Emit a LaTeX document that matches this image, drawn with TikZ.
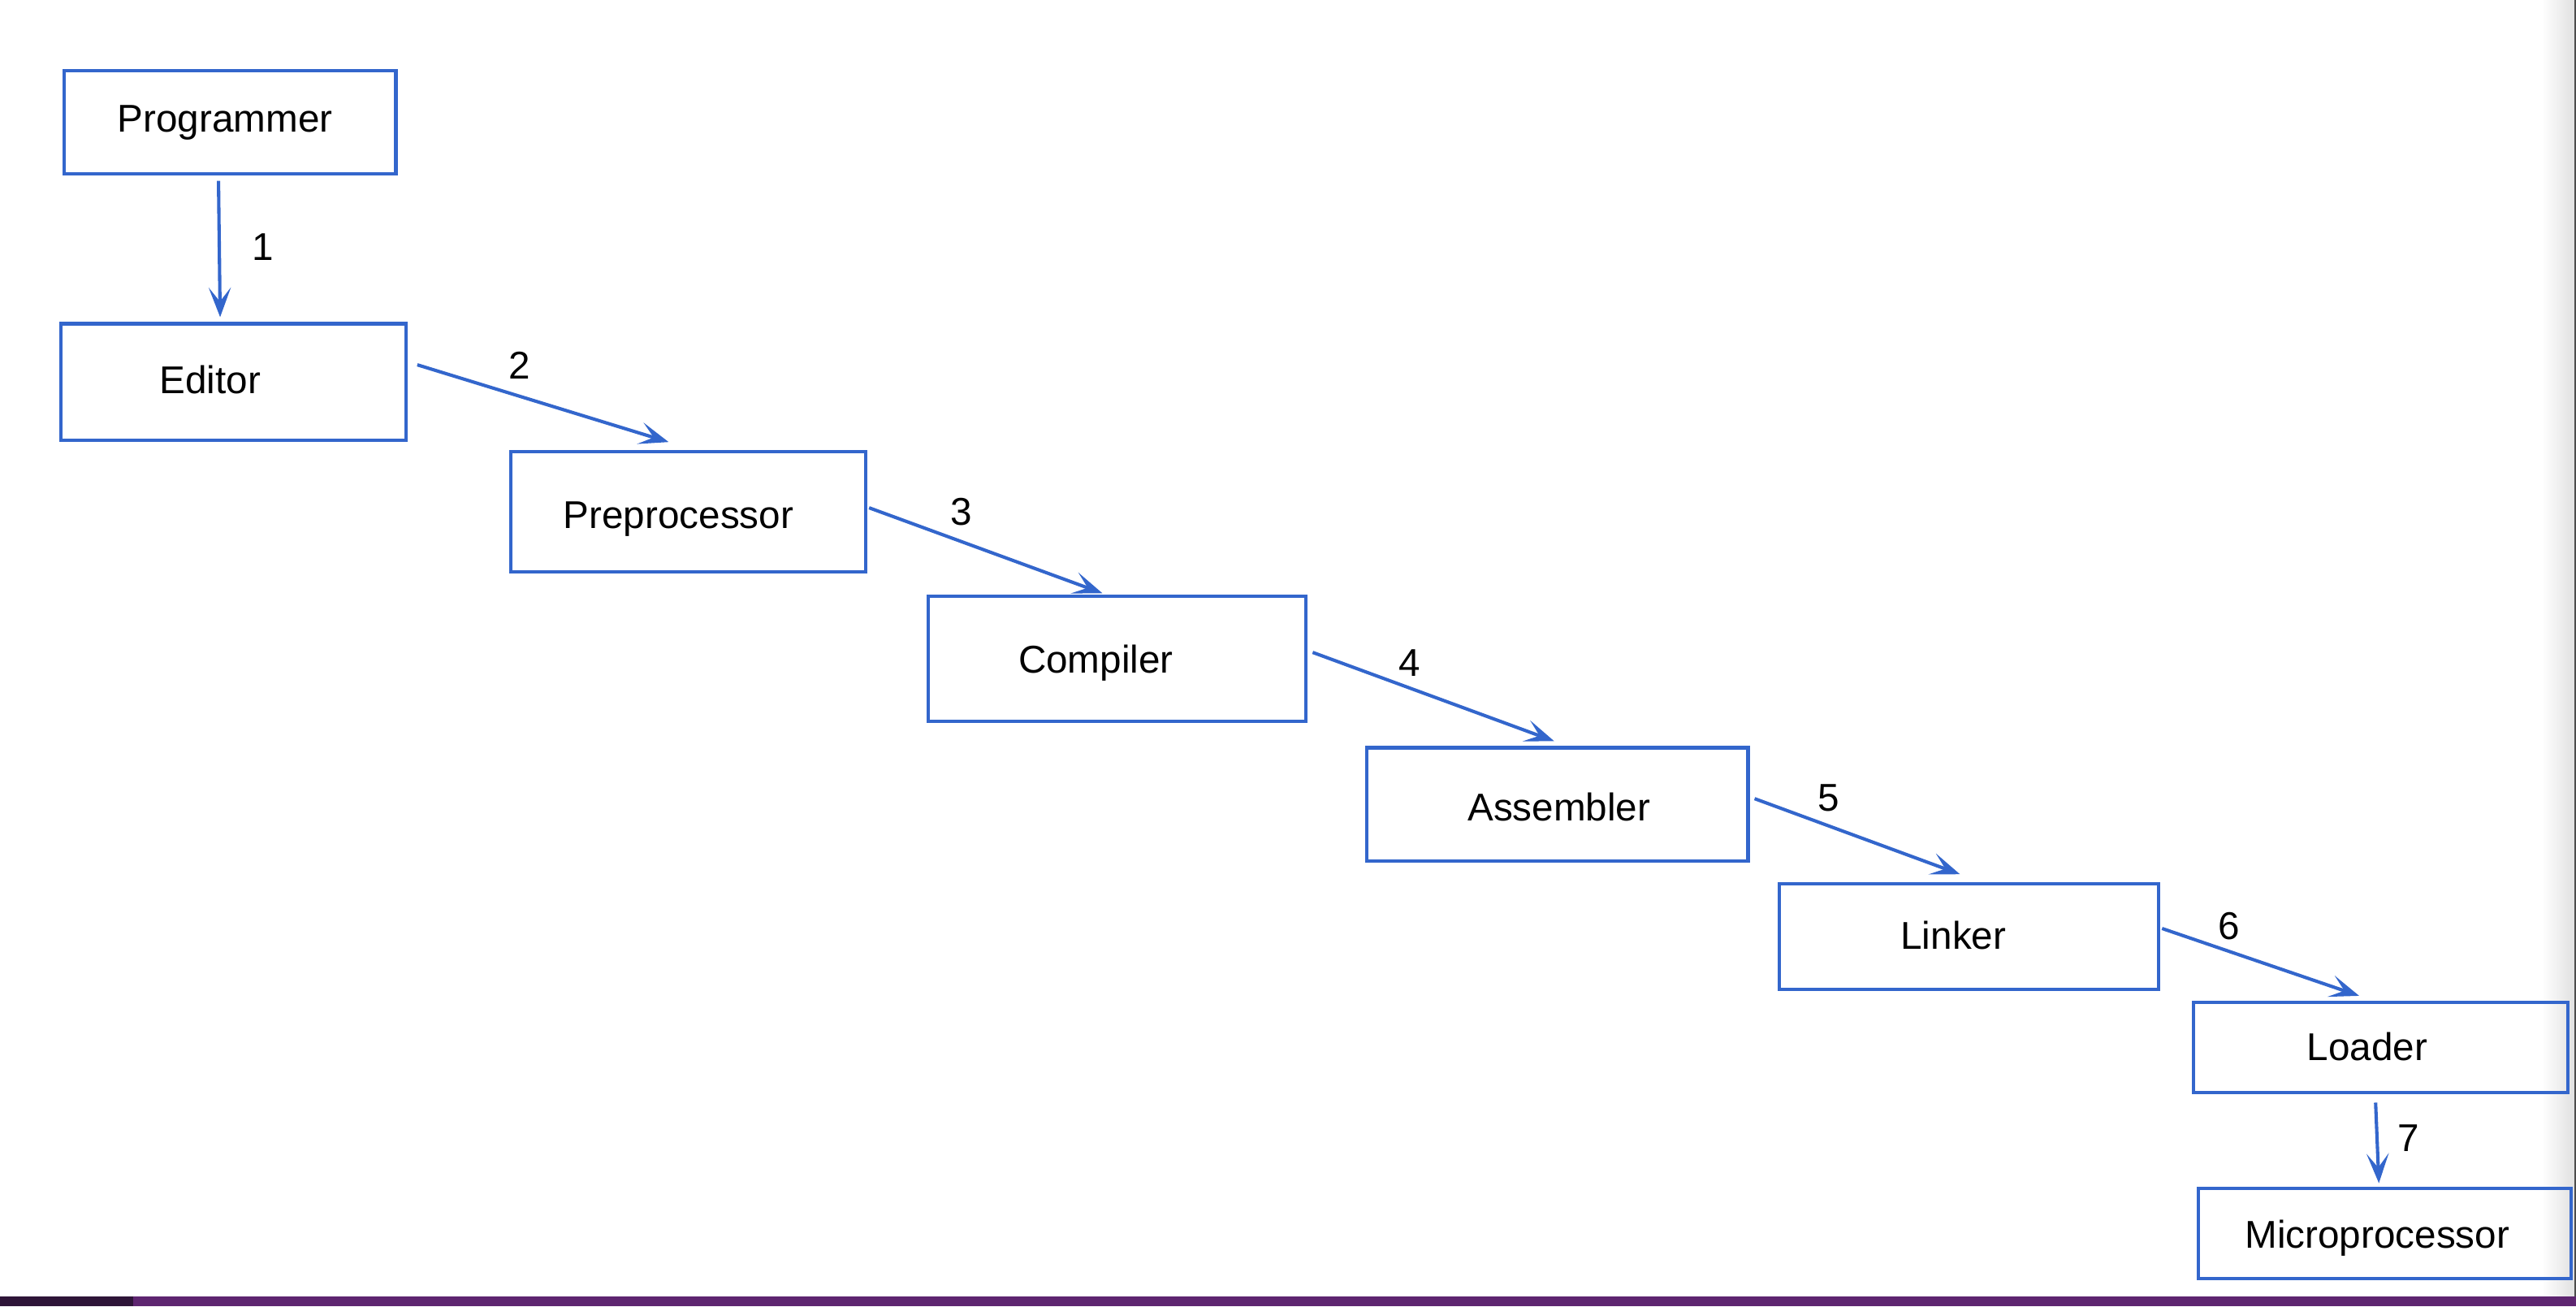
\documentclass[tikz,border=0pt]{standalone}
\usepackage{fontspec}
\setmainfont{Liberation Sans}
\usetikzlibrary{arrows.meta,calc}
\definecolor{lineblue}{RGB}{51,102,204}
\definecolor{barpurple}{RGB}{94,37,112}
\definecolor{bardark}{RGB}{46,21,56}
\tikzset{
  box/.style={draw=lineblue, line width=1.15pt, rectangle, inner sep=0pt},
  txt/.style={inner sep=0pt, anchor=base, font=\fontsize{13.4}{16}\selectfont},
  arr/.style={draw=lineblue, line width=1.15pt, -{Stealth[length=0.36cm, width=0.27cm, inset=0.17cm]}},
}
\begin{document}
\begin{tikzpicture}[x=0.02cm, y=-0.02cm]
\useasboundingbox (0,0) rectangle (1568,795);
\fill[white] (0,0) rectangle (1568,795);
% right edge shadow
\shade[left color=white, right color=black!12] (1547,0) rectangle (1567,789);
\fill[black!70] (1567,0) rectangle (1568,789);
% bottom bar
\fill[barpurple] (0,789) rectangle (1568,795);
\fill[bardark] (0,789) rectangle (81,795);

% boxes
\node[box, minimum width=202*0.02cm, minimum height=63*0.02cm] (prog) at (140,74.5) {};
\node[box, minimum width=210*0.02cm, minimum height=71*0.02cm] (ed) at (142,232.5) {};
\node[box, minimum width=216*0.02cm, minimum height=73*0.02cm] (pre) at (419,311.5) {};
\node[box, minimum width=230*0.02cm, minimum height=76*0.02cm] (comp) at (680,401) {};
\node[box, minimum width=232*0.02cm, minimum height=69*0.02cm] (asm) at (948,489.5) {};
\node[box, minimum width=231*0.02cm, minimum height=64*0.02cm] (link) at (1198.5,570) {};
\node[box, minimum width=228*0.02cm, minimum height=55*0.02cm] (load) at (1449,637.5) {};
\node[box, minimum width=227*0.02cm, minimum height=55*0.02cm] (micro) at (1451.5,750.5) {};

% texts
\node[txt] (tprog) at (137,80.5) {Programmer};
\node[txt] (ted) at (128,239.5) {Editor};
\node[txt] (tpre) at (413,321.5) {Preprocessor};
\node[txt] (tcomp) at (667,409.5) {Compiler};
\node[txt] (tasm) at (949,499.5) {Assembler};
\node[txt] (tlink) at (1189,577.5) {Linker};
\node[txt] (tload) at (1441,645.5) {Loader};
\node[txt] (tmicro) at (1447,759.5) {Microprocessor};

% connectors
\draw[arr] ($(prog.south)+(-7,3)$) -- ($(ed.north)+(-8,-3)$);
\draw[arr] ($(ed.east)+(6,-10.5)$) -- ($(pre.north)+(-12,-5)$);
\draw[arr] ($(pre.east)+(1,-2.5)$) -- ($(comp.north)+(-9,-1)$);
\draw[arr] ($(comp.east)+(3,-4)$) -- ($(asm.north)+(-2,-3)$);
\draw[arr] ($(asm.east)+(3,-3.5)$) -- ($(link.north)+(-5.5,-5)$);
\draw[arr] ($(link.east)+(1,-5)$) -- ($(load.north)+(-13,-3)$);
\draw[arr] ($(load.south)+(-3,5)$) -- ($(micro.north)+(-3.5,-2)$);

% labels
\node[txt] (l1) at (160,158.5) {1};
\node[txt] (l2) at (316,230.5) {2};
\node[txt] (l3) at (585,319.5) {3};
\node[txt] (l4) at (858,411.5) {4};
\node[txt] (l5) at (1113,493.5) {5};
\node[txt] (l6) at (1357,571.5) {6};
\node[txt] (l7) at (1466,700.5) {7};
\end{tikzpicture}
\end{document}
